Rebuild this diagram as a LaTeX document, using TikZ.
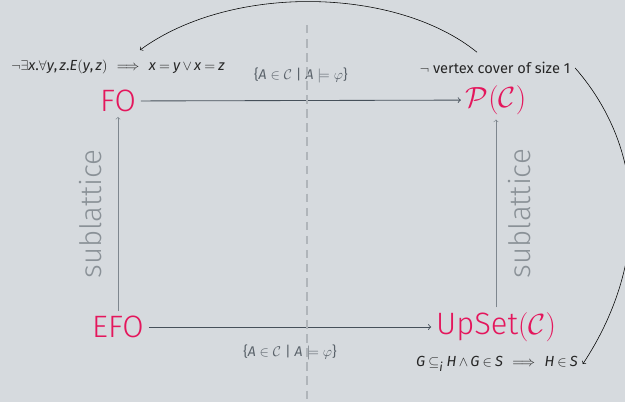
\documentclass[tikz,border=0pt]{standalone}
\usepackage{fontspec}
\setmainfont{Fira Sans}
\usepackage[italic]{mathastext}
\newfontfamily\thinfont{Fira Sans Light}
\usepackage{amsmath}
\usepackage{tikz}
\usetikzlibrary{arrows.meta, calc}

\definecolor{slidebg}{RGB}{214,218,222}
\definecolor{hot}{RGB}{228,22,92}
\definecolor{darkline}{RGB}{70,80,90}
\definecolor{softline}{RGB}{126,134,142}
\definecolor{softtext}{RGB}{138,145,151}
\definecolor{settext}{RGB}{90,98,106}
\definecolor{divcol}{RGB}{176,181,186}

\begin{document}
\begin{tikzpicture}[
  x=0.25mm, y=-0.25mm,
  >=to,
  logic/.style={font=\thinfont\fontsize{22}{26}\selectfont, text=hot},
  note/.style={font=\fontsize{10.4}{12}\selectfont, text=black!85,
    execute at begin node={\thickmuskip=4mu\relax\medmuskip=3mu\relax}},
  setlab/.style={font=\fontsize{10}{12}\selectfont, text=settext},
  sub/.style={font=\thinfont\fontsize{21}{25}\selectfont, text=softtext, sloped},
  main/.style={->, draw=darkline, semithick},
  incl/.style={->, draw=softline, thin},
  example/.style={->, draw=black, thin},
]
\useasboundingbox[fill=slidebg] (0,0) rectangle (625,402);

% the four logics / lattices
\node[logic] (fo) at (118,101) {FO};
\node[logic] (efo) at (118,327) {EFO};
\node[logic] (pc) at (496,100) {$\mathcal{P}(\mathcal{C})$};
\node[logic] (up) at (496,327) {UpSet$(\mathcal{C})$};

% the small formulas
\node[note] (fo-ax) at (118,67) {$\neg\exists x.\forall y,z.E(y,z)\mskip8mu\Longrightarrow\mskip8mu x=y\vee x=z$};
\node[note] (vc) at (495,68) {$\neg$ vertex cover of size 1};
\node[note] (up-ax) at (497,364) {$G\subseteq_i H\wedge G\in S\mskip8mu\Longrightarrow\mskip8mu H\in S$};

% maps
\draw[main] (fo) -- (pc)
  node[setlab, midway, above=9pt] {$\{A\in\mathcal{C}\mid A\models\varphi\}$};
\draw[main] (efo) -- (up)
  node[setlab, midway, below=9pt] {$\{A\in\mathcal{C}\mid A\models\varphi\}$};
\draw[incl] (efo) -- (fo) node[sub, midway, above=8pt] {sublattice};
\draw[incl] (up) -- (pc) node[sub, midway, below=5pt] {sublattice};

% examples
\draw[example] ($(vc.north)+(-18,-5)$) .. controls +(-80,-65) and +(92,-67) .. ($(fo-ax.north)+(22,-5)$);
\draw[example] (vc.east) .. controls +(74,85) and +(64,-97) .. (up-ax.east);

% divider
\draw[divcol, line width=1.1pt, dash pattern=on 6pt off 4pt] (307,25) -- (307,402);
\end{tikzpicture}
\end{document}
